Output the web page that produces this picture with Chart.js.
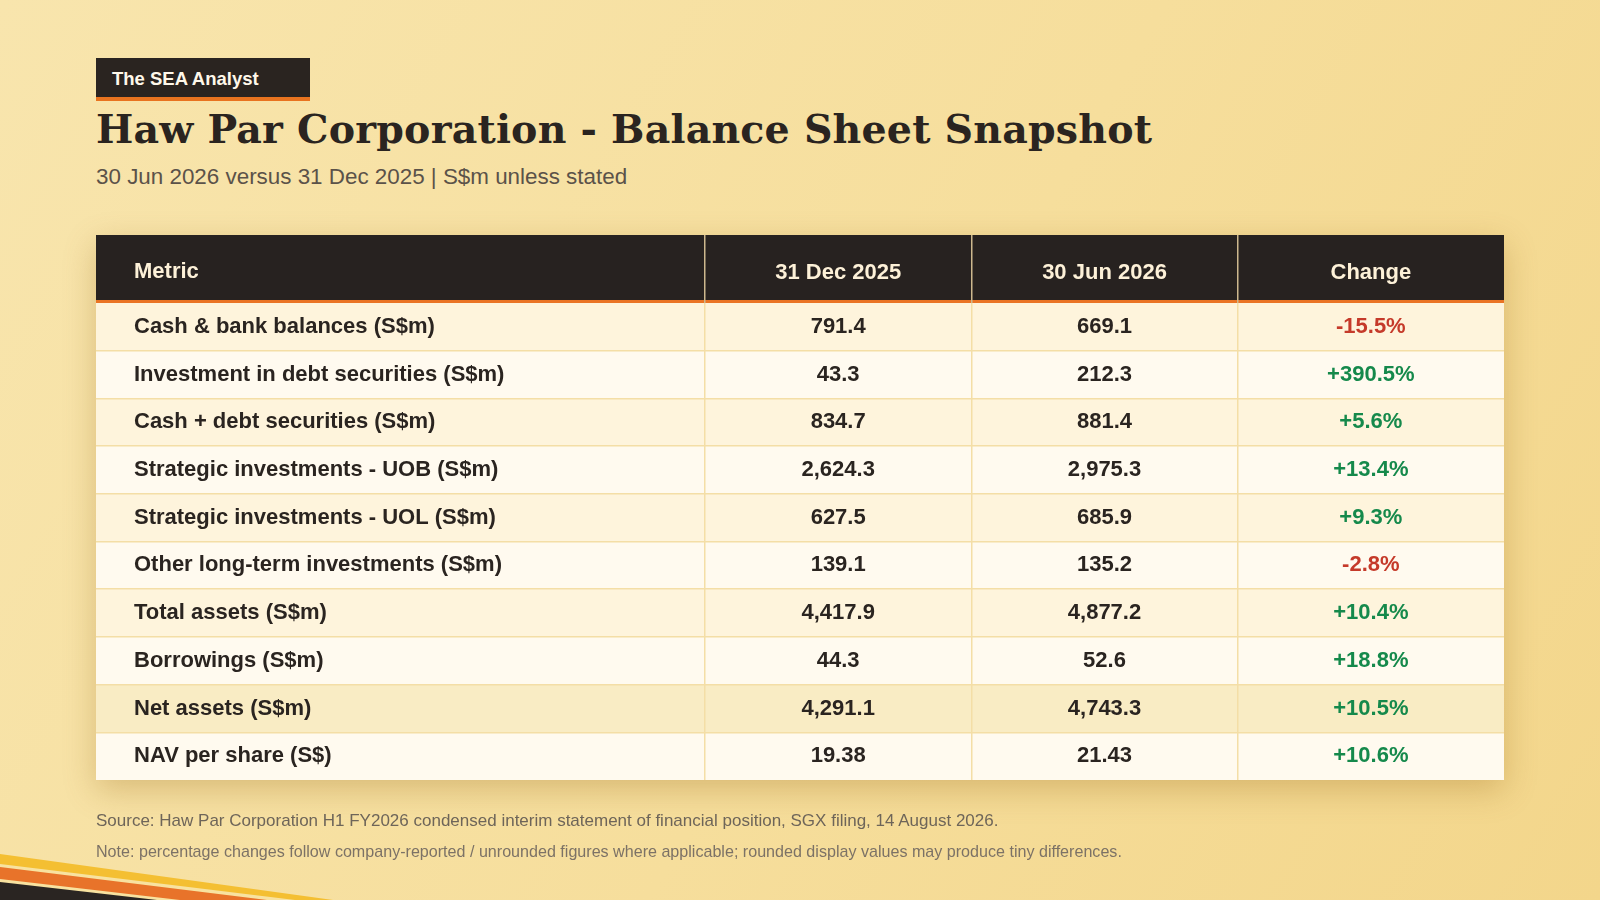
<!DOCTYPE html>
<html>
<head>
<meta charset="utf-8">
<title>Haw Par Corporation - Balance Sheet Snapshot</title>
<script src="https://cdn.jsdelivr.net/npm/chart.js@4.4.0/dist/chart.umd.min.js"></script>
<style>
    html, body { margin: 0; padding: 0; }
    body {
        width: 1600px; height: 900px; overflow: hidden; position: relative;
        background: linear-gradient(120deg, #f8e5ad 0%, #f6de9c 55%, #f3d68b 100%);
        font-family: 'Liberation Sans', Arial, sans-serif;
    }
    .badge {
        position: absolute; left: 96px; top: 58px; width: 214px; height: 39px;
        background: #2a2420; border-bottom: 4px solid #e8731f;
    }
    .badge span {
        position: absolute; left: 16px; top: 12px;
        font-size: 18.5px; line-height: 1; font-weight: bold; color: #fff8ea;
    }
    h1 {
        position: absolute; left: 96px; top: 110px; margin: 0;
        font-family: 'DejaVu Serif', serif; font-size: 39.5px; line-height: 1;
        letter-spacing: 0.2px;
        font-weight: bold; color: #2a2420; white-space: nowrap;
    }
    .sub {
        position: absolute; left: 96px; top: 166px;
        font-size: 22.4px; line-height: 1; color: #5b5249; white-space: nowrap;
    }
    .source {
        position: absolute; left: 96px; top: 812px;
        font-size: 17px; line-height: 1; color: #6e6559; white-space: nowrap;
    }
    .note {
        position: absolute; left: 96px; top: 843px;
        font-size: 16.1px; line-height: 1; color: #7c7266; white-space: nowrap;
    }
    .stripes { position: absolute; left: 0; top: 820px; }
    canvas { position: absolute; left: 0; top: 0; }
</style>
</head>
<body>
<div class="badge"><span>The SEA Analyst</span></div>
<h1>Haw Par Corporation - Balance Sheet Snapshot</h1>
<div class="sub">30 Jun 2026 versus 31 Dec 2025 | S$m unless stated</div>

<canvas id="sheetTable" width="1600" height="900"></canvas>

<div class="source">Source: Haw Par Corporation H1 FY2026 condensed interim statement of financial position, SGX filing, 14 August 2026.</div>
<div class="note">Note: percentage changes follow company-reported / unrounded figures where applicable; rounded display values may produce tiny differences.</div>

<svg class="stripes" width="400" height="80" viewBox="0 0 400 80">
    <polygon points="0,34 333,80 0,80" fill="#f4bf32"/>
    <polygon points="0,44 295,80 0,80" fill="#f8e2a0"/>
    <polygon points="0,47 267,80 0,80" fill="#e8732a"/>
    <polygon points="0,59 180,80 0,80" fill="#f8e2a0"/>
    <polygon points="0,62 157,80 0,80" fill="#2a2522"/>
</svg>

<script>
// table data
const metricHeader = 'Metric';
const columns = ['31 Dec 2025', '30 Jun 2026', 'Change'];
const metrics = [
    'Cash & bank balances (S$m)',
    'Investment in debt securities (S$m)',
    'Cash + debt securities (S$m)',
    'Strategic investments - UOB (S$m)',
    'Strategic investments - UOL (S$m)',
    'Other long-term investments (S$m)',
    'Total assets (S$m)',
    'Borrowings (S$m)',
    'Net assets (S$m)',
    'NAV per share (S$)',
];
const dec2025 = [791.4, 43.3, 834.7, 2624.3, 627.5, 139.1, 4417.9, 44.3, 4291.1, 19.38];
const jun2026 = [669.1, 212.3, 881.4, 2975.3, 685.9, 135.2, 4877.2, 52.6, 4743.3, 21.43];
const changePct = [-15.5, 390.5, 5.6, 13.4, 9.3, -2.8, 10.4, 18.8, 10.5, 10.6];
const valueDigits = [1, 1, 1, 1, 1, 1, 1, 1, 1, 2];
const highlightRow = 'Net assets (S$m)';

// layout
const TABLE_LEFT = 96;
const LABEL_LEFT = 134;
const COL_LEFT = 705;
const TABLE_RIGHT = 1504;
const HEAD_TOP = 235;
const HEAD_H = 68;
const ORANGE_H = 3;
const BODY_BOTTOM = 780;

const FONT = "'Liberation Sans', Arial, sans-serif";
const INK = '#2a2420';
const RULE = '#f4dea6';
const HEAD_RULE = '#cdb88e';

function fmt(v, d) {
    return v.toLocaleString('en-US', {minimumFractionDigits: d, maximumFractionDigits: d});
}
function fmtChange(v) {
    return (v > 0 ? '+' : '') + v.toFixed(1) + '%';
}
function rowFill(i) {
    if (metrics[i] === highlightRow) return '#f9ecc4';
    return i % 2 === 0 ? '#fef4dc' : '#fffaef';
}
function edgeHidden(ctx) {
    return ctx.index === undefined || ctx.index === 0;
}

const tablePlugin = {
    id: 'tableCells',
    beforeDraw(chart) {
        const {ctx, chartArea: area, scales: {x, y}} = chart;
        const left = TABLE_LEFT;
        const right = area.right;
        ctx.save();
        ctx.shadowColor = 'rgba(150, 100, 20, 0.30)';
        ctx.shadowBlur = 30;
        ctx.shadowOffsetY = 10;
        ctx.fillStyle = '#fffaef';
        ctx.fillRect(left, x.top, right - left, area.bottom - x.top);
        ctx.restore();

        ctx.fillStyle = '#272220';
        ctx.fillRect(left, x.top, right - left, x.bottom - x.top - ORANGE_H);
        ctx.fillStyle = '#ea7424';
        ctx.fillRect(left, x.bottom - ORANGE_H, right - left, ORANGE_H);

        const step = y.getPixelForValue(1) - y.getPixelForValue(0);
        metrics.forEach((m, i) => {
            const yc = y.getPixelForValue(i);
            ctx.fillStyle = rowFill(i);
            ctx.fillRect(left, yc - step / 2, right - left, step);
        });
    },
    afterDraw(chart) {
        const {ctx, scales: {x, y}} = chart;
        ctx.save();
        ctx.font = 'bold 22px ' + FONT;
        ctx.textBaseline = 'middle';

        ctx.textAlign = 'left';
        ctx.fillStyle = '#fdf1d8';
        ctx.fillText(metricHeader, y.left, (x.top + x.bottom - ORANGE_H) / 2 + 4);

        ctx.textAlign = 'center';
        metrics.forEach((m, i) => {
            const yc = y.getPixelForValue(i);
            ctx.fillStyle = INK;
            ctx.fillText(fmt(dec2025[i], valueDigits[i]), x.getPixelForValue(0), yc);
            ctx.fillText(fmt(jun2026[i], valueDigits[i]), x.getPixelForValue(1), yc);
            ctx.fillStyle = changePct[i] < 0 ? '#c53a2a' : '#15894b';
            ctx.fillText(fmtChange(changePct[i]), x.getPixelForValue(2), yc);
        });
        ctx.restore();
    }
};

const sheetChart = new Chart(document.getElementById('sheetTable'), {
    type: 'bar',
    data: {
        labels: metrics,
        datasets: [],
    },
    options: {
        indexAxis: 'y',
        responsive: false,
        animation: false,
        layout: {
            padding: {
                top: HEAD_TOP,
                left: LABEL_LEFT,
                right: 1600 - TABLE_RIGHT,
                bottom: 900 - BODY_BOTTOM,
            },
        },
        plugins: {
            legend: {display: false},
            tooltip: {enabled: false},
        },
        scales: {
            x: {
                type: 'category',
                labels: columns,
                position: 'top',
                offset: true,
                border: {display: false},
                grid: {
                    offset: true,
                    color: (c) => c.index === undefined ? 'transparent' : RULE,
                    tickColor: (c) => c.index === undefined ? 'transparent' : HEAD_RULE,
                    tickLength: HEAD_H,
                    lineWidth: 1.5,
                },
                ticks: {
                    color: '#fdf1d8',
                    font: {family: FONT, size: 22, weight: 'bold'},
                    padding: -(HEAD_H - (HEAD_H - ORANGE_H) / 2 + 12 + 4),
                    maxRotation: 0,
                    autoSkip: false,
                },
                afterFit: (s) => { s.height = HEAD_H; },
            },
            y: {
                type: 'category',
                labels: metrics,
                offset: true,
                border: {display: false},
                grid: {
                    offset: true,
                    color: (c) => edgeHidden(c) ? 'transparent' : RULE,
                    tickColor: (c) => edgeHidden(c) ? 'transparent' : RULE,
                    tickLength: COL_LEFT - TABLE_LEFT,
                    lineWidth: 1.5,
                },
                ticks: {
                    crossAlign: 'far',
                    color: INK,
                    font: {family: FONT, size: 22, weight: 'bold'},
                    padding: 0,
                    autoSkip: false,
                },
                afterFit: (s) => { s.width = COL_LEFT - LABEL_LEFT; },
            },
        },
    },
    plugins: [tablePlugin],
});
</script>
</body>
</html>
